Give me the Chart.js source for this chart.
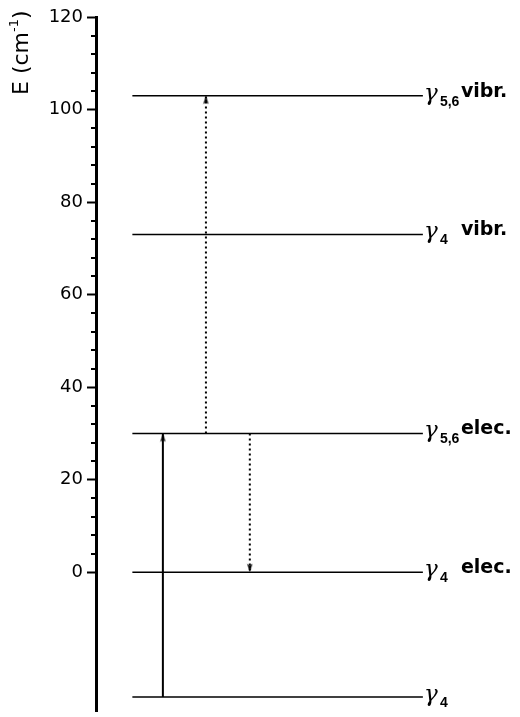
<!DOCTYPE html>
<html lang="en">
<head>
<meta charset="UTF-8">
<title>Energy levels</title>
<script src="https://cdn.jsdelivr.net/npm/chart.js"></script>
<style>
  html, body { margin: 0; padding: 0; background: #fff; }
</style>
</head>
<body>
<canvas id="levels" width="520" height="717"></canvas>
<script>
// energy levels, cm-1 (ground state at the bottom)
const levelEnergy = [-27, 0, 30, 73, 103];
const levelSub = ['4', '4', '5,6', '4', '5,6'];
const levelTag = ['', 'elec.', 'elec.', 'vibr.', 'vibr.'];
const levelSpan = [8.7, 78.2];

// transitions between levels
const transFrom = [-27, 30, 30];
const transTo = [30, 103, 0];
const transX = [16, 26.3, 36.8];
const transDotted = [false, true, true];

const yTicks = [0, 20, 40, 60, 80, 100, 120];

const SANS = '"DejaVu Sans", Verdana, sans-serif';
Chart.defaults.font.family = SANS;
Chart.defaults.color = '#000';

// small arrow head, tip in the middle of the image so it sits on the point
function arrowHead() {
  const c = document.createElement('canvas');
  c.width = 7; c.height = 20;
  const g = c.getContext('2d');
  g.fillStyle = '#000';
  g.beginPath();
  g.moveTo(3.5, 10);
  g.lineTo(6.2, 18.5);
  g.lineTo(3.5, 16.5);
  g.lineTo(0.8, 18.5);
  g.closePath();
  g.fill();
  return c;
}
const head = arrowHead();

const datasets = [];
levelEnergy.forEach(e => {
  datasets.push({
    data: [{ x: levelSpan[0], y: e }, { x: levelSpan[1], y: e }],
    borderColor: '#000',
    borderWidth: 1.5,
    pointRadius: 0
  });
});
transFrom.forEach((from, i) => {
  const up = transTo[i] > from;
  datasets.push({
    data: [{ x: transX[i], y: from }, { x: transX[i], y: transTo[i] }],
    borderColor: '#000',
    borderWidth: 2,
    borderDash: transDotted[i] ? [2, 3] : [],
    pointRadius: [0, 3],
    pointStyle: ['circle', head],
    rotation: up ? 0 : 180
  });
});

// minor ticks, level labels and the rotated axis title
const decor = {
  id: 'decor',
  afterDraw(chart) {
    const ctx = chart.ctx;
    const x = chart.scales.x, y = chart.scales.y;
    const left = chart.chartArea.left;

    ctx.save();
    ctx.strokeStyle = '#000';
    ctx.lineWidth = 2;
    for (let v = 4; v < 120; v += 4) {
      if (v % 20 === 0) continue;
      const py = Math.round(y.getPixelForValue(v));
      ctx.beginPath();
      ctx.moveTo(left - 5, py);
      ctx.lineTo(left, py);
      ctx.stroke();
    }

    ctx.fillStyle = '#000';
    ctx.textBaseline = 'alphabetic';
    levelEnergy.forEach((e, i) => {
      const px = x.getPixelForValue(levelSpan[1]);
      const py = y.getPixelForValue(e);
      ctx.font = 'italic 23px "DejaVu Serif", serif';
      ctx.fillText('γ', px + 1, py + 4);
      ctx.font = 'bold 14px "Liberation Sans", Arial, sans-serif';
      ctx.fillText(levelSub[i], px + 17, py + 10);
      if (levelTag[i]) {
        ctx.font = 'bold 19px ' + SANS;
        ctx.fillText(levelTag[i], px + 38, py + 1);
      }
    });

    // E (cm^-1), rotated
    ctx.translate(28, 95);
    ctx.rotate(-Math.PI / 2);
    ctx.font = '22px ' + SANS;
    let tx = 0;
    ctx.fillText('E (cm', tx, 0);
    tx += ctx.measureText('E (cm').width;
    ctx.font = '13px ' + SANS;
    ctx.fillText('-1', tx, -10);
    tx += ctx.measureText('-1').width;
    ctx.font = '22px ' + SANS;
    ctx.fillText(')', tx, 0);
    ctx.restore();
  }
};

new Chart(document.getElementById('levels'), {
  type: 'line',
  data: { datasets },
  options: {
    responsive: false,
    animation: false,
    events: [],
    layout: { padding: { top: 17, right: 0, bottom: 0, left: 0 } },
    plugins: { legend: { display: false }, tooltip: { enabled: false } },
    scales: {
      x: { type: 'linear', min: 0, max: 100, display: false },
      y: {
        type: 'linear',
        min: -30,
        max: 120,
        afterBuildTicks: s => { s.ticks = yTicks.map(v => ({ value: v })); },
        afterFit: s => { s.width = 96; s.paddingTop = 0; s.paddingBottom = 0; },
        border: { display: true, width: 3, color: '#000' },
        grid: { drawOnChartArea: false, drawTicks: true, tickLength: 9, tickWidth: 2, tickColor: '#000' },
        ticks: { padding: 4, font: { size: 18 }, color: '#000' }
      }
    }
  },
  plugins: [decor]
});
</script>
</body>
</html>
